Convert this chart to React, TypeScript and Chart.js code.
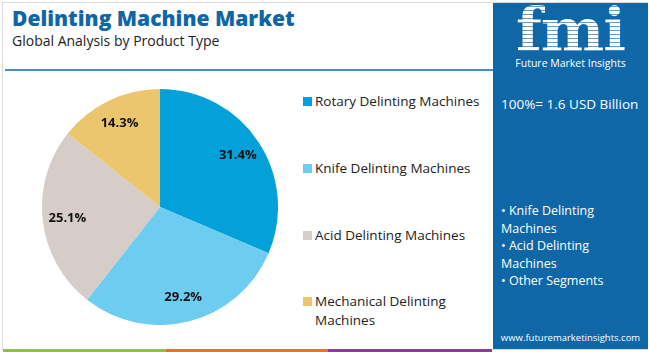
import React, { useEffect, useRef } from "react";
import { Chart, registerables } from "chart.js";

Chart.register(...registerables);

const categories = [
  "Rotary Delinting Machines",
  "Knife Delinting Machines",
  "Acid Delinting Machines",
  "Mechanical Delinting Machines",
];
const shares = [31.4, 29.2, 25.1, 14.3];
const colors = ["#03a0d9", "#6ccdf1", "#d6ccc8", "#ecc66f"];
const bullets = ["• Knife Delinting Machines", "• Acid Delinting Machines", "• Other Segments"];

const FONT = "'Open Sans', 'Noto Sans', sans-serif";

const labelPlugin = {
  id: "sliceLabels",
  afterDatasetsDraw(chart: any) {
    const { ctx } = chart;
    const meta = chart.getDatasetMeta(0);
    ctx.save();
    ctx.font = `bold 13px ${FONT}`;
    ctx.fillStyle = "#111";
    ctx.textAlign = "center";
    ctx.textBaseline = "middle";
    meta.data.forEach((arc: any, i: number) => {
      const { x, y, startAngle, endAngle, outerRadius } = arc.getProps(
        ["x", "y", "startAngle", "endAngle", "outerRadius"],
        true
      );
      const mid = (startAngle + endAngle) / 2;
      const r = outerRadius * 0.79;
      ctx.fillText(shares[i].toFixed(1) + "%", x + Math.cos(mid) * r, y + Math.sin(mid) * r);
    });
    ctx.restore();
  },
};

export default function App() {
  const ref = useRef<HTMLCanvasElement>(null);
  useEffect(() => {
    if (!ref.current) return;
    const chart = new Chart(ref.current, {
      type: "pie",
      data: {
        labels: categories,
        datasets: [{ data: shares, backgroundColor: colors, borderWidth: 0 }],
      },
      options: {
        responsive: false,
        animation: false,
        layout: { padding: 0 },
        plugins: { legend: { display: false }, tooltip: { enabled: false } },
      },
      plugins: [labelPlugin],
    });
    return () => chart.destroy();
  }, []);

  const legendTops = [92, 159, 226, 292];

  return (
    <div
      style={{
        position: "fixed",
        left: 0,
        top: 0,
        width: 650,
        height: 352,
        background: "#fff",
        fontFamily: FONT,
        overflow: "hidden",
      }}
    >
      <div
        style={{
          position: "absolute",
          left: 2,
          top: 2,
          width: 646,
          height: 348,
          border: "1px solid #dcdcdc",
          boxSizing: "border-box",
        }}
      />
      <div
        style={{
          position: "absolute",
          left: 12,
          top: 4,
          fontSize: 21,
          fontWeight: 800,
          color: "#0f66a6",
          whiteSpace: "nowrap",
        }}
      >
        Delinting Machine Market
      </div>
      <div style={{ position: "absolute", left: 12, top: 31, fontSize: 14, color: "#222", whiteSpace: "nowrap" }}>
        Global Analysis by Product Type
      </div>
      <div style={{ position: "absolute", left: 5, top: 69, width: 488, height: 2, background: "#4a8cc6" }} />

      <canvas
        ref={ref}
        width={236}
        height={236}
        style={{ position: "absolute", left: 42, top: 89, width: 236, height: 236 }}
      />

      {categories.map((c, i) => (
        <div key={c} style={{ position: "absolute", left: 303, top: legendTops[i], width: 185 }}>
          <div
            style={{
              position: "absolute",
              left: 0,
              top: 5,
              width: 9,
              height: 9,
              background: colors[i],
            }}
          />
          <div style={{ marginLeft: 12, fontSize: 13.5, lineHeight: "19px", color: "#222" }}>{c}</div>
        </div>
      ))}

      <div
        style={{
          position: "absolute",
          left: 493,
          top: 3,
          width: 155,
          height: 346,
          background: "#0f67a8",
          color: "#fff",
        }}
      >
        <div
          style={{
            position: "absolute",
            left: 0,
            top: -8,
            width: 155,
            textAlign: "center",
            fontFamily: "'DejaVu Serif', serif",
            fontWeight: 900,
            fontSize: 60,
            letterSpacing: -1,
            lineHeight: "70px",
            color: "transparent",
            backgroundImage:
              "repeating-linear-gradient(180deg, #fff 0px, #fff 3px, rgba(255,255,255,0.35) 3px, rgba(255,255,255,0.35) 4px)",
            WebkitBackgroundClip: "text",
            backgroundClip: "text",
          }}
        >
          fmi
        </div>
        <div style={{ position: "absolute", left: 0, top: 53, width: 155, textAlign: "center", fontSize: 10.5 }}>
          Future Market Insights
        </div>
        <div style={{ position: "absolute", left: 8, top: 92, fontSize: 13.5, whiteSpace: "nowrap" }}>
          100%= 1.6 USD Billion
        </div>
        <div style={{ position: "absolute", left: 8, top: 199, width: 110, fontSize: 12.5, lineHeight: "17.5px" }}>
          {bullets.map((b) => (
            <div key={b}>{b}</div>
          ))}
        </div>
        <div style={{ position: "absolute", left: 0, top: 328, width: 155, textAlign: "center", fontSize: 9.5 }}>
          www.futuremarketinsights.com
        </div>
      </div>

      <div style={{ position: "absolute", left: 3, top: 349, width: 163, height: 3, background: "#8cc04f" }} />
      <div style={{ position: "absolute", left: 166, top: 349, width: 162, height: 3, background: "#e5703a" }} />
      <div style={{ position: "absolute", left: 328, top: 349, width: 164, height: 3, background: "#8c3c9c" }} />
    </div>
  );
}
